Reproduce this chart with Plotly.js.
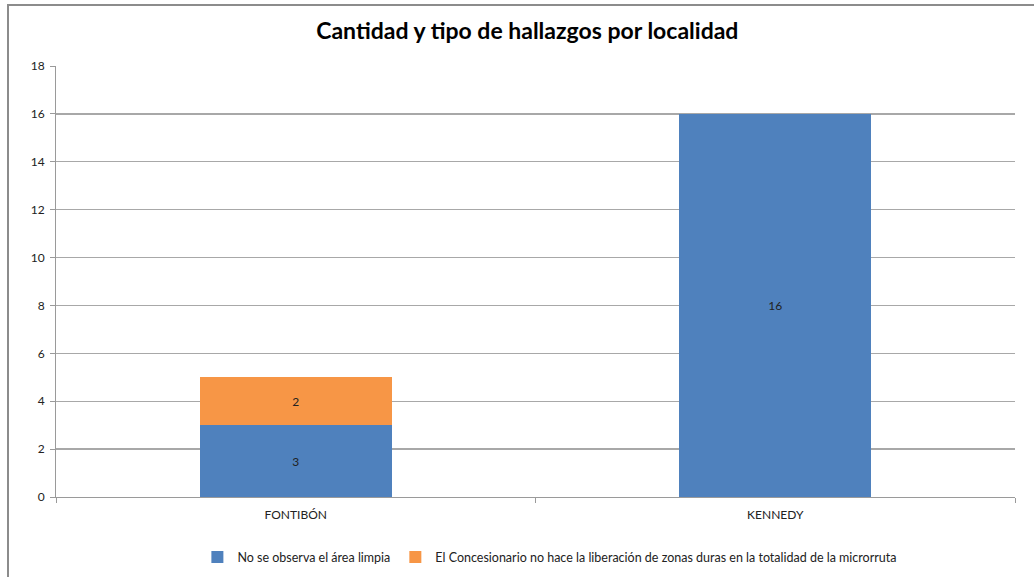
<!DOCTYPE html>
<html>
<head>
<meta charset="utf-8">
<script src="https://cdn.plot.ly/plotly-3.0.1.min.js"></script>
<style>
  html, body { margin: 0; padding: 0; background: #fff; overflow: hidden; }
  #frame { position: absolute; left: 7px; top: 4px; width: 1100px; height: 650px; border: 2px solid #8c8c8c; box-sizing: border-box; }
  #chart { position: absolute; left: 0; top: 0; width: 1034px; height: 577px; }
</style>
</head>
<body>
<div id="frame"></div>
<div id="chart"></div>
<script>
const categories = ["FONTIBÓN", "KENNEDY"];
const seriesNames = [
  "No se observa el área limpia",
  "El Concesionario no hace la liberación de zonas duras en la totalidad de la microrruta"
];
const noLimpia = [3, 16];
const noLiberacion = [2, 0];
const yTicks = [0, 2, 4, 6, 8, 10, 12, 14, 16, 18];

const labelOf = v => (v > 0 ? String(v) : "");
const font = "Lato, Calibri, 'Open Sans', sans-serif";

const traces = [
  {
    type: "bar", name: seriesNames[0], x: categories, y: noLimpia,
    marker: { color: "#4F81BD" },
    text: noLimpia.map(labelOf), textposition: "inside", insidetextanchor: "middle",
    textfont: { family: font, size: 12, color: "#222" }, hoverinfo: "x+y+name"
  },
  {
    type: "bar", name: seriesNames[1], x: categories, y: noLiberacion,
    marker: { color: "#F79646" },
    text: noLiberacion.map(labelOf), textposition: "inside", insidetextanchor: "middle",
    textfont: { family: font, size: 12, color: "#222" }, hoverinfo: "x+y+name"
  }
];

const layout = {
  width: 1034, height: 577,
  paper_bgcolor: "rgba(0,0,0,0)", plot_bgcolor: "rgba(0,0,0,0)",
  margin: { l: 56, r: 19, t: 66, b: 80, autoexpand: false },
  barmode: "stack", bargap: 0.6,
  font: { family: font, size: 11, color: "#333" },
  title: {
    text: "<b>Cantidad y tipo de hallazgos por localidad</b>",
    font: { family: font, size: 23, color: "#000" },
    x: 0.51, xanchor: "center", y: 0.946, yanchor: "middle"
  },
  xaxis: {
    type: "category", automargin: false, showgrid: false, showline: true, linecolor: "#9a9a9a", linewidth: 1,
    ticks: "outside", tickson: "boundaries", ticklen: 5, tickcolor: "#9a9a9a",
    ticklabelstandoff: 7,
    tickfont: { family: font, size: 12, color: "#222" }
  },
  yaxis: {
    range: [0, 18], automargin: false, tickvals: yTicks, ticktext: yTicks.map(String),
    showgrid: true, gridcolor: "#a8a8a8", gridwidth: 1.3,
    showline: true, linecolor: "#9a9a9a", linewidth: 1,
    ticks: "outside", ticklen: 5, tickcolor: "#9a9a9a", ticklabelstandoff: 3,
    tickfont: { family: font, size: 12, color: "#222" }, zeroline: false
  },
  legend: {
    orientation: "h", x: 0.515, xanchor: "center", y: -0.14, yanchor: "middle",
    font: { family: font, size: 12.5, color: "#222" }, itemwidth: 30, traceorder: "normal"
  },
  showlegend: true
};

Plotly.newPlot("chart", traces, layout, { displayModeBar: false, staticPlot: true });
</script>
</body>
</html>
